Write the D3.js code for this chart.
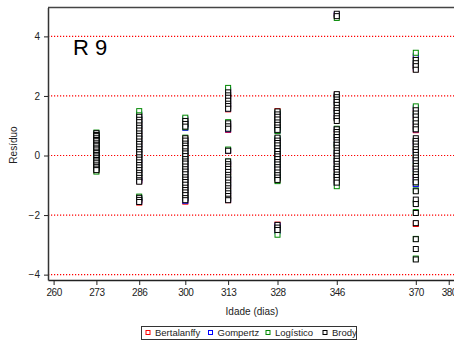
<!DOCTYPE html>
<html>
<head>
<meta charset="utf-8">
<script src="https://cdn.jsdelivr.net/npm/d3@7"></script>
<style>
  body { margin: 0; background: #fff; }
  svg text { font-family: 'Liberation Sans', Arial, sans-serif; }
</style>
</head>
<body>
<svg id="chart" width="454" height="342"></svg>
<script>
// ages (dias) where residuals were observed
const ages = [273, 286, 300, 313, 328, 346, 370];
const xTicks = [260, 273, 286, 300, 313, 328, 346, 370, 380];
const yTicks = [-4, -2, 0, 2, 4];
const modelNames = ['Bertalanffy', 'Gompertz', 'Logístico', 'Brody'];
const modelColors = ['#ff0000', '#0000ff', '#008800', '#000000'];

// residuals per model, one list per age
const bertalanffy = [
  [0.71, 0.6, 0.5, 0.39, 0.29, 0.17, 0.06, -0.05, -0.17, -0.28, -0.4, -0.5],
  [1.32, 1.15, 0.98, 0.82, 0.66, 0.5, 0.35, 0.18, 0.02, -0.15, -0.3, -0.48, -0.62, -0.78, -0.86, -1.5, -1.58],
  [1.2, 1.02, 0.55, 0.38, 0.18, 0.0, -0.2, -0.38, -0.58, -0.78, -0.98, -1.18, -1.38, -1.55],
  [2.15, 1.95, 1.72, 1.55, 1.05, 0.86, 0.15, -0.3, -0.55, -0.82, -1.05, -1.3, -1.5],
  [1.49, 1.25, 1.02, 0.85, 0.5, 0.28, 0.05, -0.18, -0.4, -0.6, -0.78, -2.32, -2.5],
  [4.7, 2.04, 1.8, 1.55, 1.28, 0.85, 0.6, 0.35, 0.05, -0.2, -0.45, -0.7, -0.9],
  [3.3, 3.05, 2.9, 1.55, 1.3, 1.05, 0.85, 0.45, 0.2, -0.1, -0.4, -0.7, -0.95, -2.3]
];
const gompertz = [
  [0.73, 0.62, 0.54, 0.43, 0.33, 0.22, 0.11, 0.0, -0.11, -0.23, -0.35, -0.46],
  [1.38, 1.22, 1.06, 0.9, 0.72, 0.56, 0.4, 0.24, 0.06, -0.11, -0.26, -0.44, -0.58, -0.75, -0.84, -1.44, -1.53],
  [1.22, 1.05, 0.93, 0.52, 0.35, 0.15, -0.04, -0.24, -0.42, -0.62, -0.82, -1.02, -1.22, -1.42, -1.52],
  [2.2, 1.98, 1.76, 1.58, 1.08, 0.88, 0.17, -0.25, -0.5, -0.78, -1.0, -1.25, -1.48],
  [1.42, 1.18, 0.95, 0.84, 0.55, 0.3, 0.08, -0.15, -0.36, -0.58, -0.75, -2.36, -2.54],
  [4.72, 2.02, 1.78, 1.52, 1.3, 0.88, 0.62, 0.38, 0.08, -0.18, -0.42, -0.68, -0.92],
  [3.35, 3.1, 2.95, 1.6, 1.35, 1.1, 0.88, 0.42, 0.15, -0.15, -0.45, -0.75, -0.96]
];
const logistico = [
  [0.77, 0.66, 0.55, 0.45, 0.34, 0.26, 0.15, 0.04, -0.07, -0.18, -0.31, -0.43, -0.54],
  [1.49, 1.35, 1.2, 1.05, 0.88, 0.7, 0.55, 0.4, 0.22, 0.05, -0.1, -0.28, -0.45, -0.6, -0.72, -1.38, -1.45],
  [1.27, 1.08, 0.95, 0.6, 0.42, 0.25, 0.05, -0.12, -0.3, -0.5, -0.7, -0.9, -1.1, -1.3, -1.45],
  [2.27, 2.05, 1.82, 1.6, 1.12, 0.92, 0.2, -0.2, -0.45, -0.7, -0.95, -1.2, -1.42],
  [1.45, 1.2, 0.98, 0.82, 0.58, 0.35, 0.12, -0.1, -0.32, -0.55, -0.72, -0.86, -2.45, -2.66],
  [4.62, 2.0, 1.75, 1.5, 1.25, 0.9, 0.65, 0.4, 0.3, 0.1, -0.15, -0.4, -0.65, -0.85, -1.03],
  [3.45, 3.2, 3.0, 1.65, 1.4, 1.15, 0.9, 0.5, 0.25, 0.0, -0.3, -0.6, -0.9, -1.17, -1.59, -1.9, -2.8, -3.46]
];
const brody = [
  [0.75, 0.69, 0.65, 0.58, 0.52, 0.48, 0.41, 0.36, 0.31, 0.24, 0.2, 0.13, 0.08, 0.02, -0.03, -0.09, -0.15, -0.2, -0.26, -0.33, -0.38, -0.44, -0.49],
  [1.3, 1.2, 1.12, 1.01, 0.93, 0.84, 0.74, 0.66, 0.57, 0.47, 0.39, 0.3, 0.21, 0.12, 0.04, -0.06, -0.14, -0.23, -0.32, -0.4, -0.49, -0.58, -0.66, -0.75, -0.83, -0.88, -1.42, -1.49, -1.56],
  [1.16, 1.06, 0.97, 0.58, 0.5, 0.4, 0.33, 0.25, 0.14, 0.07, -0.02, -0.12, -0.2, -0.27, -0.37, -0.46, -0.54, -0.63, -0.73, -0.81, -0.89, -0.98, -1.08, -1.16, -1.24, -1.33, -1.43, -1.5],
  [2.12, 2.02, 1.94, 1.84, 1.74, 1.66, 1.57, 1.08, 0.98, 0.9, 0.16, -0.2, -0.29, -0.37, -0.45, -0.55, -0.65, -0.73, -0.81, -0.91, -1.0, -1.1, -1.18, -1.27, -1.36, -1.45, -1.5],
  [1.48, 1.38, 1.3, 1.21, 1.11, 1.03, 0.94, 0.86, 0.6, 0.5, 0.42, 0.34, 0.24, 0.15, 0.05, -0.03, -0.12, -0.22, -0.3, -0.39, -0.47, -0.57, -0.66, -0.74, -0.82, -2.33, -2.42, -2.5],
  [4.76, 4.68, 2.06, 1.96, 1.88, 1.8, 1.7, 1.6, 1.52, 1.43, 1.33, 1.25, 1.16, 0.88, 0.79, 0.71, 0.62, 0.52, 0.44, 0.36, 0.26, 0.17, 0.09, -0.01, -0.1, -0.18, -0.28, -0.37, -0.45, -0.55, -0.64, -0.72, -0.82, -0.91],
  [3.21, 3.1, 3.0, 2.88, 1.52, 1.41, 1.31, 1.2, 1.08, 0.97, 0.88, 0.58, 0.49, 0.4, 0.3, 0.21, 0.12, 0.02, -0.07, -0.16, -0.26, -0.35, -0.44, -0.54, -0.63, -0.72, -0.82, -0.9, -1.2, -1.48, -1.63, -1.93, -2.27, -2.81, -3.14, -3.49]
];
const series = [bertalanffy, gompertz, logistico, brody];

const svg = d3.select('#chart');
const plotLeft = 48, plotRight = 454, plotTop = 7.5, plotBottom = 280;

const x = d3.scaleLinear().domain([258.3, 381.6]).range([plotLeft, plotRight]);
const y = d3.scaleLinear().domain([-4.18, 4.97]).range([plotBottom, plotTop]);

// dotted red gridlines
svg.append('g')
  .selectAll('line')
  .data(yTicks)
  .enter().append('line')
    .attr('x1', plotLeft).attr('x2', plotRight)
    .attr('y1', d => y(d)).attr('y2', d => y(d))
    .attr('stroke', '#ff0000')
    .attr('stroke-width', 1.2)
    .attr('stroke-dasharray', '1.2,1.8');

// points, drawn model by model so Brody ends on top
series.forEach(function(model, mi) {
  const pts = [];
  model.forEach(function(vals, ai) {
    vals.forEach(function(v) { pts.push({ age: ages[ai], value: v }); });
  });
  svg.append('g')
    .selectAll('rect')
    .data(pts)
    .enter().append('rect')
      .attr('x', d => x(d.age) - 2.5)
      .attr('y', d => y(d.value) - 2.5)
      .attr('width', 5)
      .attr('height', 5)
      .attr('fill', '#fff')
      .attr('stroke', modelColors[mi])
      .attr('stroke-width', 1);
});

// x axis
const xAxis = svg.append('g')
  .attr('transform', 'translate(0,' + plotBottom + ')')
  .call(d3.axisBottom(x).tickValues(xTicks).tickSize(5).tickSizeOuter(0).tickPadding(4));
xAxis.select('.domain').attr('stroke', '#222').attr('stroke-width', 1.5);
xAxis.selectAll('.tick line').attr('stroke', '#222');
xAxis.selectAll('text').attr('font-size', 10).attr('letter-spacing', -0.5).attr('fill', '#222');

// y axis
const yAxis = svg.append('g')
  .attr('transform', 'translate(' + plotLeft + ',0)')
  .call(d3.axisLeft(y).tickValues(yTicks).tickSize(4).tickSizeOuter(0).tickPadding(4));
yAxis.select('.domain').attr('stroke', '#333').attr('stroke-width', 1.5);
yAxis.selectAll('.tick line').attr('stroke', '#222');
yAxis.selectAll('text').attr('font-size', 10).attr('fill', '#222');

// top frame line
svg.append('line')
  .attr('x1', plotLeft).attr('x2', plotRight)
  .attr('y1', plotTop).attr('y2', plotTop)
  .attr('stroke', '#444').attr('stroke-width', 1.5);

// axis titles
svg.append('text')
  .attr('x', 252).attr('y', 315)
  .attr('text-anchor', 'middle')
  .attr('font-size', 10).attr('fill', '#222')
  .text('Idade (dias)');

svg.append('text')
  .attr('transform', 'translate(17,145) rotate(-90)')
  .attr('text-anchor', 'middle')
  .attr('font-size', 10).attr('fill', '#222')
  .text('Resíduo');

svg.append('text')
  .attr('x', 73).attr('y', 55)
  .attr('font-size', 22).attr('fill', '#000')
  .text('R 9');

// legend
const legendX = [148, 210.5, 268, 325];
const legend = svg.append('g');
legend.append('rect')
  .attr('x', 141.5).attr('y', 326.5)
  .attr('width', 215).attr('height', 13)
  .attr('fill', '#fff').attr('stroke', '#333').attr('stroke-width', 1);
modelNames.forEach(function(name, i) {
  legend.append('rect')
    .attr('x', legendX[i] - 2).attr('y', 330.5)
    .attr('width', 4).attr('height', 4)
    .attr('fill', '#fff')
    .attr('stroke', modelColors[i]).attr('stroke-width', 1);
  legend.append('text')
    .attr('x', legendX[i] + 7).attr('y', 336)
    .attr('font-size', 9.5).attr('fill', '#222')
    .text(name);
});
</script>
</body>
</html>
